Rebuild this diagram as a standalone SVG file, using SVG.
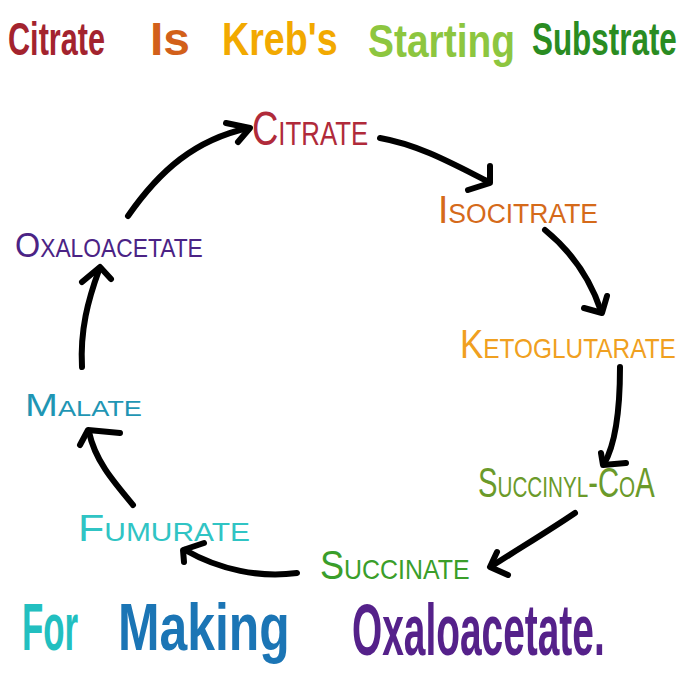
<svg xmlns="http://www.w3.org/2000/svg" width="680" height="680" viewBox="0 0 680 680">
<style>
  .t { font-family: "Liberation Sans", Arial, sans-serif; font-weight: 700; }
  .n { font-family: "Liberation Sans", Arial, sans-serif; font-variant: small-caps; font-weight: 400; }
  .c { fill: none; stroke: #000; stroke-width: 6; stroke-linecap: round; stroke-linejoin: round; }
  .h { fill: none; stroke: #000; stroke-width: 6; stroke-linecap: round; stroke-linejoin: round; }
</style>
<rect width="680" height="680" fill="#fff"/>
<g id="title">
  <text class="t" transform="translate(8,55) scale(0.66,1)" font-size="46" fill="#a3232e" textLength="147" lengthAdjust="spacingAndGlyphs">Citrate</text>
  <text class="t" x="150" y="55" font-size="46" fill="#d2601a" textLength="40" lengthAdjust="spacingAndGlyphs">Is</text>
  <text class="t" transform="translate(222,55) scale(0.82,1)" font-size="46" fill="#f2a900" textLength="141" lengthAdjust="spacingAndGlyphs">Kreb's</text>
  <text class="t" transform="translate(368,57) scale(0.845,1)" font-size="46" fill="#8dc63f" textLength="174" lengthAdjust="spacingAndGlyphs">Starting</text>
  <text class="t" transform="translate(532,55) scale(0.68,1)" font-size="46" fill="#2a8c22" textLength="213" lengthAdjust="spacingAndGlyphs">Substrate</text>
</g>
<g id="footer">
  <text class="t" transform="translate(22,650) scale(0.53,1)" font-size="66" fill="#22bfc0" textLength="106" lengthAdjust="spacingAndGlyphs">For</text>
  <text class="t" transform="translate(118,650) scale(0.76,1)" font-size="66" fill="#1b75b5" textLength="226" lengthAdjust="spacingAndGlyphs">Making</text>
  <text class="t" transform="translate(352,655) scale(0.54,1)" font-size="72" fill="#55218a" textLength="468" lengthAdjust="spacingAndGlyphs">Oxaloacetate.</text>
</g>
<g id="connectors">
  <path class="c" d="M128,216 C160,170 195,140 248,128"/>
  <polyline class="h" points="226,123 250,128 238,142"/>
  <path class="c" d="M380,138 C420,145 455,165 489,182"/>
  <polyline class="h" points="490,166 490,183 468,190"/>
  <path class="c" d="M545,230 C572,252 590,278 601,311"/>
  <polyline class="h" points="584,308 602,313 607,296"/>
  <path class="c" d="M620,367 C620,400 618,440 604,464"/>
  <polyline class="h" points="601,453 603,465 626,463"/>
  <path class="c" d="M575,513 C550,530 520,548 492,566"/>
  <polyline class="h" points="497,552 490,567 508,575"/>
  <path class="c" d="M297,573 C260,578 220,570 185,550"/>
  <polyline class="h" points="204,543 183,550 184,562"/>
  <path class="c" d="M133,505 C112,480 95,460 89,432"/>
  <polyline class="h" points="80,445 88,430 120,433"/>
  <path class="c" d="M82,367 C80,330 88,300 99,270"/>
  <polyline class="h" points="82,282 100,267 111,279"/>
</g>
<g id="citrate"><text class="n" transform="translate(252,145) scale(0.75,1)" font-size="48" fill="#b02a3a" textLength="155" lengthAdjust="spacingAndGlyphs">Citrate</text></g>
<g id="isocitrate"><text class="n" x="438" y="223" font-size="38" fill="#d56a1a" textLength="160" lengthAdjust="spacingAndGlyphs">Isocitrate</text></g>
<g id="ketoglutarate"><text class="n" transform="translate(460,358) scale(0.86,1)" font-size="40" fill="#f0a020" textLength="251" lengthAdjust="spacingAndGlyphs">Ketoglutarate</text></g>
<g id="succinyl-coa"><text class="n" transform="translate(478,497) scale(0.73,1)" font-size="42" fill="#6b9a2a" textLength="242" lengthAdjust="spacingAndGlyphs">Succinyl-CoA</text></g>
<g id="succinate"><text class="n" transform="translate(320,579) scale(0.88,1)" font-size="40" fill="#3a9e2a" textLength="170" lengthAdjust="spacingAndGlyphs">Succinate</text></g>
<g id="fumurate"><text class="n" x="78" y="541" font-size="36" fill="#30c4c4" textLength="172" lengthAdjust="spacingAndGlyphs">Fumurate</text></g>
<g id="malate"><text class="n" x="25" y="416" font-size="32" fill="#1f96b4" textLength="117" lengthAdjust="spacingAndGlyphs">Malate</text></g>
<g id="oxaloacetate"><text class="n" transform="translate(15,257) scale(0.89,1)" font-size="36" fill="#4b2385" textLength="211" lengthAdjust="spacingAndGlyphs">Oxaloacetate</text></g>
</svg>
